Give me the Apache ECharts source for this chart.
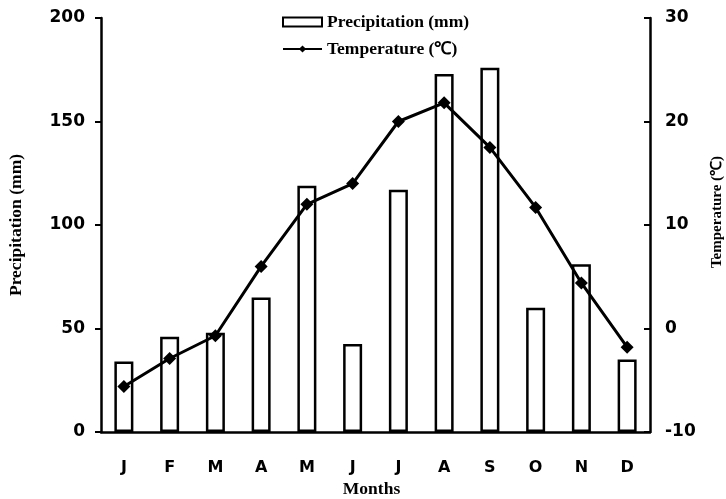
<!DOCTYPE html>
<html><head><meta charset="utf-8">
<script src="https://cdn.jsdelivr.net/npm/echarts@6/dist/echarts.min.js"></script>
<style>html,body{margin:0;padding:0;background:#fff}#c{width:726px;height:499px}</style>
</head><body><div id="c"></div>
<script>
var months = ['J','F','M','A','M','J','J','A','S','O','N','D'];
var precipitation = [34, 46, 48, 65, 119, 42.5, 117, 173, 176, 60, 81, 35];
var temperature = [-5.6, -2.9, -0.7, 6.0, 12.0, 14.0, 20.0, 21.8, 17.5, 11.7, 4.4, -1.8];
var precipTicks = {min: 0, max: 200, interval: 50};
var tempTicks = {min: -10, max: 30, interval: 10};

var chart = echarts.init(document.getElementById('c'), null, {renderer: 'canvas'});
var sans = 'DejaVu Sans', serif = 'Liberation Serif';
chart.setOption({
  animation: false,
  backgroundColor: '#fff',
  grid: {left: 101, right: 76, top: 18, bottom: 67, containLabel: false, outerBoundsMode: 'none'},
  legend: {
    orient: 'vertical', left: 277, top: 8, itemGap: 9,
    itemWidth: 39, itemHeight: 9,
    textStyle: {fontFamily: serif, fontSize: 17.5, color: '#000', fontWeight: 'bold'},
    data: [
      {name: 'Precipitation (mm)', icon: 'rect', itemStyle: {color: '#fff', borderColor: '#000', borderWidth: 2}},
      {name: 'Temperature (℃)'}
    ]
  },
  xAxis: {
    type: 'category', data: months, boundaryGap: true,
    name: 'Months', nameLocation: 'middle', nameGap: 48,
    nameTextStyle: {fontFamily: serif, fontSize: 17.5, color: '#000', fontWeight: 'bold', padding: [0, 8, 0, 0]},
    axisLine: {lineStyle: {color: '#000', width: 2.5}},
    axisTick: {inside: true, length: 6, lineStyle: {color: '#000', width: 2}},
    axisLabel: {fontFamily: sans, fontWeight: 'bold', fontSize: 16, color: '#000', margin: 28}
  },
  yAxis: [
    {
      type: 'value', min: precipTicks.min, max: precipTicks.max, interval: precipTicks.interval,
      name: 'Precipitation (mm)', nameLocation: 'middle', nameGap: 76, nameRotate: 90,
      nameTextStyle: {fontFamily: serif, fontSize: 17.5, color: '#000', fontWeight: 'bold'},
      axisLine: {show: true, lineStyle: {color: '#000', width: 2.5}},
      axisTick: {show: true, inside: false, length: 6, lineStyle: {color: '#000', width: 2}},
      axisLabel: {fontFamily: sans, fontWeight: 'bold', fontSize: 17, color: '#000', margin: 16},
      splitLine: {show: false}
    },
    {
      type: 'value', min: tempTicks.min, max: tempTicks.max, interval: tempTicks.interval,
      position: 'right',
      name: 'Temperature (℃)', nameLocation: 'middle', nameGap: 60, nameRotate: 90,
      nameTextStyle: {fontFamily: serif, fontSize: 15, color: '#000', fontWeight: 'bold', padding: [0, 0, 0, 26]},
      axisLine: {show: true, lineStyle: {color: '#000', width: 2.5}},
      axisTick: {show: true, inside: true, length: 6, lineStyle: {color: '#000', width: 2}},
      axisLabel: {fontFamily: sans, fontWeight: 'bold', fontSize: 17, color: '#000', margin: 15},
      splitLine: {show: false}
    }
  ],
  series: [
    {
      name: 'Precipitation (mm)', type: 'bar', yAxisIndex: 0, data: precipitation,
      barWidth: 19,
      itemStyle: {color: '#fff', borderColor: '#000', borderWidth: 2.5}
    },
    {
      name: 'Temperature (℃)', type: 'line', yAxisIndex: 1, data: temperature,
      symbol: 'diamond', symbolSize: 13,
      lineStyle: {color: '#000', width: 3},
      itemStyle: {color: '#000'}
    }
  ]
});
</script></body></html>
